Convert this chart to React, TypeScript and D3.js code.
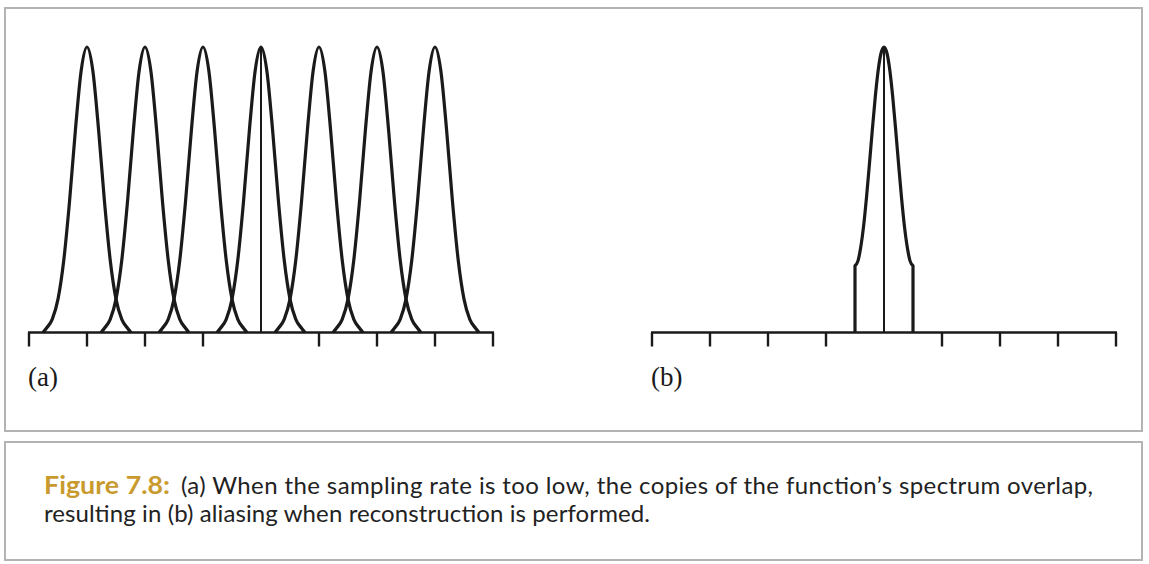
import React from "react";
import * as d3 from "d3";

// Copies of the spectrum (centres, in units of the sampling interval)
const copyCenters = [-3, -2, -1, 0, 1, 2, 3];
// Axis tick positions (the centre 0 is marked by the vertical line instead)
const tickValues = [-4, -3, -2, -1, 1, 2, 3, 4];
// One spectrum copy: offset from centre -> relative height
const profileOffsets = [0, 0.1, 0.2, 0.3, 0.4, 0.5, 0.6, 0.7, 0.76];
const profileHeights = [1, 0.918, 0.709, 0.462, 0.254, 0.117, 0.046, 0.015, 0];
// Aliased (reconstructed) spectrum, truncated at +/-0.5
const aliasOffsets = [0, 0.05, 0.1, 0.15, 0.2, 0.25, 0.3, 0.35, 0.4, 0.45, 0.5];
const aliasHeights = [1, 0.979, 0.919, 0.826, 0.713, 0.593, 0.477, 0.376, 0.3, 0.25, 0.234];
const panelLabels = ["(a)", "(b)"];
const captionTitle = "Figure 7.8:";
const captionLine1 = "(a) When the sampling rate is too low, the copies of the function\u2019s spectrum overlap,";
const captionLine2 = "resulting in (b) aliasing when reconstruction is performed.";

const INK = "#1a1a1a";

function Panel({ x0, x1, kind, label }: { x0: number; x1: number; kind: "a" | "b"; label: string }) {
  const baseY = 332.5;
  const x = d3.scaleLinear().domain([-4, 4]).range([x0, x1]);
  const y = d3.scaleLinear().domain([0, 1]).range([baseY, 47]);
  const line = d3
    .line<[number, number]>()
    .x((d) => x(d[0]))
    .y((d) => y(d[1]))
    .curve(d3.curveMonotoneX);

  const copyPts = (c: number): [number, number][] => {
    const left: [number, number][] = profileOffsets
      .slice()
      .reverse()
      .map((o, i) => [c - o, profileHeights[profileOffsets.length - 1 - i]]);
    const right: [number, number][] = profileOffsets.slice(1).map((o, i) => [c + o, profileHeights[i + 1]]);
    return [...left, ...right];
  };

  const aliasPts = (): [number, number][] => {
    const left: [number, number][] = aliasOffsets
      .slice()
      .reverse()
      .map((o, i) => [-o, aliasHeights[aliasOffsets.length - 1 - i]]);
    const right: [number, number][] = aliasOffsets.slice(1).map((o, i) => [o, aliasHeights[i + 1]]);
    return [...left, ...right];
  };

  let curves: string[] = [];
  if (kind === "a") {
    curves = copyCenters.map((c) => line(copyPts(c)) as string);
  } else {
    const pts = aliasPts();
    const inner = line(pts) as string;
    const first = pts[0];
    const last = pts[pts.length - 1];
    const d =
      `M${x(first[0])},${y(0)}L${x(first[0])},${y(first[1])}` +
      inner.replace(/^M/, "L") +
      `L${x(last[0])},${y(0)}`;
    curves = [d];
  }

  return (
    <g>
      {curves.map((d, i) => (
        <path key={i} d={d} fill="none" stroke={INK} strokeWidth={3.2} strokeLinejoin="round" />
      ))}
      <line x1={x(0)} x2={x(0)} y1={y(1)} y2={baseY} stroke={INK} strokeWidth={2} />
      <line x1={x(-4) - 1} x2={x(4) + 1} y1={baseY} y2={baseY} stroke={INK} strokeWidth={2.6} />
      {tickValues.map((t) => (
        <line key={t} x1={x(t)} x2={x(t)} y1={baseY} y2={baseY + 14} stroke={INK} strokeWidth={2.4} />
      ))}
      <text
        x={x(-4) - 1}
        y={386}
        fontFamily="'Liberation Serif', 'DejaVu Serif', serif"
        fontSize={27}
        fill={INK}
      >
        {label}
      </text>
    </g>
  );
}

export default function App() {
  return (
    <svg
      width={1149}
      height={564}
      style={{ position: "absolute", left: 0, top: 0, background: "#fff" }}
    >
      <rect x={0} y={0} width={1149} height={564} fill="#fff" />
      <rect x={5} y={8} width={1137} height={423} fill="none" stroke="#b3b3b3" strokeWidth={2} />
      <rect x={5} y={442} width={1137} height={118} fill="none" stroke="#b3b3b3" strokeWidth={2} />
      <Panel x0={29} x1={493} kind="a" label={panelLabels[0]} />
      <Panel x0={652} x1={1116} kind="b" label={panelLabels[1]} />
      <g fontFamily="Lato, 'Noto Sans', sans-serif" fontSize={24}>
        <text x={44} y={494} fill="#c99a2e" fontWeight="bold" textLength={126} lengthAdjust="spacingAndGlyphs">
          {captionTitle}
        </text>
        <text x={181} y={494} fill="#222" textLength={912} lengthAdjust="spacing">
          {captionLine1}
        </text>
        <text x={44} y={522} fill="#222" textLength={606} lengthAdjust="spacing">
          {captionLine2}
        </text>
      </g>
    </svg>
  );
}
